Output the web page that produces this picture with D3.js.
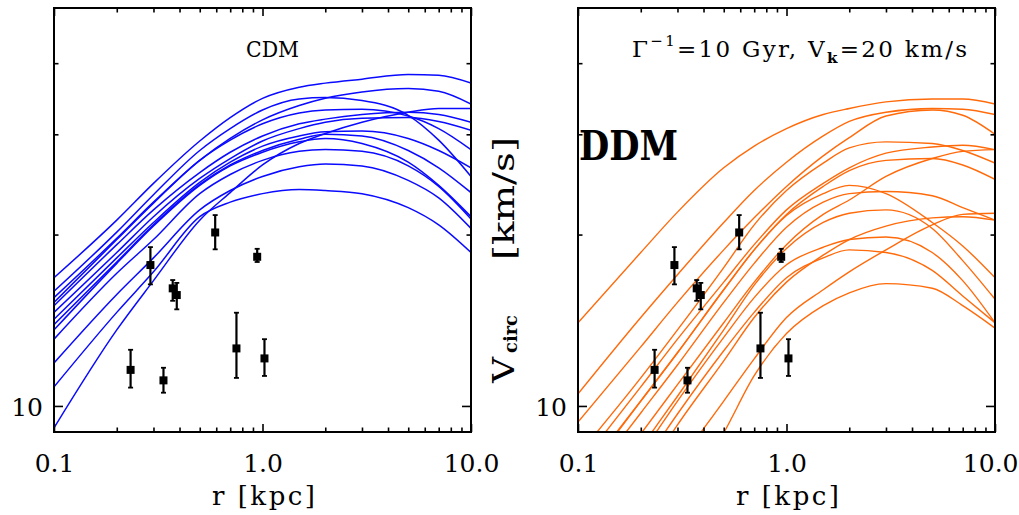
<!DOCTYPE html>
<html>
<head>
<meta charset="utf-8">
<script src="https://cdn.jsdelivr.net/npm/d3@7"></script>
<style>
  body { margin: 0; background: #ffffff; }
  svg { display: block; }
  text { font-family: "DejaVu Serif", serif; fill: #000; }
</style>
</head>
<body>
<svg id="chart" width="1019" height="515"></svg>
<script>
// Radii (kpc) at which every rotation curve is tabulated
const radii = [0.1, 0.2, 0.3, 0.5, 0.7, 1, 1.5, 2, 3, 5, 7, 10];

// Circular-velocity curves (km/s) of the CDM subhaloes
const cdmCurves = [
  [16.8, 21.2, 24.6, 29.2, 32.1, 34.7, 36.3, 36.9, 37.5, 38.2, 38.1, 36.9],
  [15.9, 20.2, 23.5, 28.1, 30.7, 33.1, 34.6, 34.8, 34.4, 32.4, 29.3, 25.3],
  [15.5, 19.7, 22.8, 27.0, 29.5, 31.8, 33.7, 34.7, 35.6, 36.1, 35.7, 33.9],
  [9.15, 13.6, 16.6, 21.2, 23.7, 26.5, 28.9, 30.1, 31.5, 32.8, 33.3, 33.3],
  [10.8, 14.6, 17.2, 21.5, 22.8, 23.6, 24.0, 23.9, 23.6, 22.3, 20.8, 18.6],
  [11.9, 15.7, 18.2, 22.1, 23.9, 25.3, 26.3, 26.6, 26.4, 24.9, 23.2, 20.5],
  [13.1, 17.1, 19.6, 23.6, 25.5, 27.0, 28.0, 28.2, 28.0, 26.4, 24.3, 21.3],
  [15.2, 19.6, 22.7, 27.0, 29.3, 31.3, 32.7, 33.1, 33.2, 32.3, 30.7, 28.2],
  [15.0, 19.2, 22.1, 25.7, 27.9, 29.8, 31.3, 31.9, 32.5, 32.8, 32.5, 31.5],
  [14.6, 18.6, 21.5, 25.1, 27.2, 29.2, 30.7, 31.5, 32.0, 32.1, 31.6, 30.5],
  [14.2, 18.2, 21.0, 24.7, 26.8, 28.6, 29.8, 30.3, 30.4, 29.5, 28.1, 26.2],
  [13.9, 17.9, 20.8, 24.5, 26.5, 28.1, 29.4, 30.0, 29.8, 28.1, 26.2, 23.7],
  [13.6, 17.8, 20.7, 24.4, 26.4, 27.9, 29.1, 29.5, 28.9, 26.8, 24.4, 21.5]
];

// Circular-velocity curves (km/s) of the decaying-DM subhaloes
const ddmCurves = [
  [14.0, 18.6, 21.9, 26.2, 28.6, 30.7, 32.5, 33.3, 34.2, 34.6, 34.6, 33.9],
  [10.5, 14.3, 17.0, 21.0, 23.9, 26.8, 29.8, 31.6, 32.8, 33.3, 33.2, 32.5],
  [9.37, 12.7, 15.2, 18.8, 21.4, 24.3, 27.5, 29.6, 32.3, 33.1, 32.4, 30.0],
  [8.2, 11.2, 13.6, 17.5, 20.8, 23.9, 26.7, 28.4, 29.1, 28.9, 28.1, 26.7],
  [7.8, 10.8, 13.1, 16.5, 19.2, 22.1, 24.6, 26.2, 27.8, 28.5, 28.7, 28.2],
  [7.36, 10.2, 12.4, 16.0, 18.8, 21.7, 24.3, 25.9, 27.0, 27.2, 26.5, 25.0],
  [7.27, 10.2, 12.4, 16.0, 18.8, 21.6, 23.6, 24.4, 23.6, 21.0, 19.1, 16.8],
  [6.98, 9.72, 11.8, 15.2, 17.8, 20.6, 22.8, 23.6, 23.8, 23.4, 22.3, 21.2],
  [6.31, 8.93, 10.9, 14.0, 16.5, 19.2, 21.7, 23.0, 25.3, 27.2, 28.0, 28.2],
  [5.82, 8.44, 10.4, 13.6, 16.3, 18.9, 21.0, 21.8, 22.1, 20.5, 18.0, 15.4],
  [5.63, 8.2, 10.2, 13.2, 15.5, 17.7, 19.0, 19.6, 19.8, 18.6, 16.6, 14.0],
  [5.37, 7.79, 9.68, 12.5, 14.6, 16.8, 18.2, 18.8, 18.6, 17.3, 15.6, 14.0],
  [4.57, 6.36, 7.88, 10.2, 12.1, 14.3, 16.0, 17.2, 18.8, 20.8, 21.7, 21.8],
  [3.89, 5.46, 6.70, 8.97, 11.3, 13.4, 15.0, 15.8, 16.4, 16.1, 15.0, 13.7],
  [5.05, 7.36, 9.26, 12.0, 14.3, 16.5, 18.4, 19.6, 20.7, 21.4, 21.5, 21.2]
];

// Measured circular velocities of the dwarf spheroidals (r in kpc, V in km/s)
const obsR  = [0.233, 0.335, 0.290, 0.371, 0.388, 0.750, 1.022, 0.943, 0.593];
const obsV  = [11.57, 11.09, 17.68, 16.09, 15.66, 12.62, 12.12, 18.28, 20.17];
const obsLo = [10.77, 10.55, 16.35, 15.30, 14.78, 11.20, 11.29, 17.90, 18.84];
const obsHi = [12.55, 11.67, 19.01, 16.64, 16.45, 14.58, 13.10, 18.88, 21.64];

// Axis ticks
const xMajorTicks = [0.1, 1, 10];
const xMajorLabels = ["0.1", "1.0", "10.0"];
const xMinorTicks = [0.2, 0.3, 0.4, 0.5, 0.6, 0.7, 0.8, 0.9, 2, 3, 4, 5, 6, 7, 8, 9];
const yMajorTicks = [10];
const yMajorLabels = ["10"];
const yMinorTicks = [20, 30, 40];

const svg = d3.select("#chart");
const plotTop = 8, plotBottom = 432;
const y = d3.scaleLog().domain([9, 50]).range([plotBottom, plotTop]);

const panels = [
  { id: "cdm", left: 54, right: 471, curves: cdmCurves, color: "#0a0aff", width: 1.5 },
  { id: "ddm", left: 578, right: 995, curves: ddmCurves, color: "#ff6a0a", width: 1.4 }
];

panels.forEach((p, pi) => {
  const x = d3.scaleLog().domain([0.1, 10]).range([p.left, p.right]);
  const g = svg.append("g");

  g.append("clipPath").attr("id", "clip-" + p.id)
    .append("rect")
    .attr("x", p.left).attr("y", plotTop)
    .attr("width", p.right - p.left).attr("height", plotBottom - plotTop);

  const line = d3.line()
    .x((d, i) => x(radii[i]))
    .y(d => y(d))
    .curve(d3.curveMonotoneX);

  g.append("g").attr("clip-path", `url(#clip-${p.id})`)
    .selectAll("path").data(p.curves).join("path")
    .attr("d", line)
    .attr("fill", "none")
    .attr("stroke", p.color)
    .attr("stroke-width", p.width)
    .attr("stroke-linejoin", "round");

  // observed points with error bars
  const pts = g.append("g").selectAll("g").data(obsR).join("g");
  pts.append("line")
    .attr("x1", d => x(d)).attr("x2", d => x(d))
    .attr("y1", (d, i) => y(obsLo[i])).attr("y2", (d, i) => y(obsHi[i]))
    .attr("stroke", "#000").attr("stroke-width", 2.2);
  [obsLo, obsHi].forEach(arr => {
    pts.append("line")
      .attr("x1", d => x(d) - 2.5).attr("x2", d => x(d) + 2.5)
      .attr("y1", (d, i) => y(arr[i])).attr("y2", (d, i) => y(arr[i]))
      .attr("stroke", "#000").attr("stroke-width", 1.8);
  });
  pts.append("rect")
    .attr("x", d => x(d) - 4).attr("y", (d, i) => y(obsV[i]) - 4)
    .attr("width", 8).attr("height", 8)
    .attr("fill", "#000");

  // axes: major and minor ticks drawn inward on all four sides
  const styleAxis = sel => {
    sel.select(".domain").remove();
    sel.selectAll(".tick line").attr("stroke", "#000").attr("stroke-width", 1.6);
  };
  g.append("g").attr("transform", `translate(0,${plotBottom})`)
    .call(d3.axisBottom(x).tickValues(xMajorTicks)
      .tickFormat((d, i) => xMajorLabels[i]).tickSizeInner(-8).tickSizeOuter(0).tickPadding(22))
    .call(styleAxis)
    .call(s => s.selectAll("text")
      .attr("font-family", "DejaVu Serif").attr("font-size", 25)
      .attr("fill", "#000").attr("dy", "0.71em")
      // the last label of the right panel is pulled in so it stays on the page
      .attr("text-anchor", (d, i) => (pi === 1 && i === 2) ? "end" : "middle")
      .attr("dx", (d, i) => (pi === 1 && i === 2) ? 23 : 0));
  g.append("g").attr("transform", `translate(0,${plotBottom})`)
    .call(d3.axisBottom(x).tickValues(xMinorTicks).tickFormat("").tickSizeInner(-4.5).tickSizeOuter(0))
    .call(styleAxis);
  g.append("g").attr("transform", `translate(0,${plotTop})`)
    .call(d3.axisTop(x).tickValues(xMajorTicks).tickFormat("").tickSizeInner(-8).tickSizeOuter(0))
    .call(styleAxis);
  g.append("g").attr("transform", `translate(0,${plotTop})`)
    .call(d3.axisTop(x).tickValues(xMinorTicks).tickFormat("").tickSizeInner(-4.5).tickSizeOuter(0))
    .call(styleAxis);

  g.append("g").attr("transform", `translate(${p.left},0)`)
    .call(d3.axisLeft(y).tickValues(yMajorTicks)
      .tickFormat((d, i) => yMajorLabels[i]).tickSizeInner(-9).tickSizeOuter(0).tickPadding(11))
    .call(styleAxis)
    .call(s => s.selectAll("text")
      .attr("font-family", "DejaVu Serif").attr("font-size", 25)
      .attr("fill", "#000").attr("dy", "0.38em"));
  g.append("g").attr("transform", `translate(${p.left},0)`)
    .call(d3.axisLeft(y).tickValues(yMinorTicks).tickFormat("").tickSizeInner(-4.5).tickSizeOuter(0))
    .call(styleAxis);
  g.append("g").attr("transform", `translate(${p.right},0)`)
    .call(d3.axisRight(y).tickValues(yMajorTicks).tickFormat("").tickSizeInner(-9).tickSizeOuter(0))
    .call(styleAxis);
  g.append("g").attr("transform", `translate(${p.right},0)`)
    .call(d3.axisRight(y).tickValues(yMinorTicks).tickFormat("").tickSizeInner(-4.5).tickSizeOuter(0))
    .call(styleAxis);

  // frame
  g.append("rect")
    .attr("x", p.left).attr("y", plotTop)
    .attr("width", p.right - p.left).attr("height", plotBottom - plotTop)
    .attr("fill", "none").attr("stroke", "#000").attr("stroke-width", 2);

  // x-axis title
  g.append("text")
    .attr("x", (p.left + p.right) / 2 + 1).attr("y", 505)
    .attr("text-anchor", "middle").attr("font-size", 26)
    .attr("textLength", 103).attr("lengthAdjust", "spacing")
    .text("r [kpc]");
});

// panel annotations
svg.append("text")
  .attr("x", 272.5).attr("y", 57).attr("text-anchor", "middle")
  .attr("font-size", 23).attr("textLength", 53).attr("lengthAdjust", "spacingAndGlyphs")
  .text("CDM");

const title = svg.append("text")
  .attr("x", 632).attr("y", 57).attr("font-size", 23)
  .attr("textLength", 335).attr("lengthAdjust", "spacing");
title.append("tspan").text("Γ");
title.append("tspan").attr("font-size", 15).attr("dy", -11).text("−1");
title.append("tspan").attr("dy", 11).text("=10 Gyr, V");
title.append("tspan").attr("font-size", 15).attr("font-weight", "bold").attr("dy", 6).text("k");
title.append("tspan").attr("dy", -6).text("=20 km/s");

svg.append("text")
  .attr("x", 579).attr("y", 160)
  .attr("font-family", "Liberation Serif").attr("font-weight", "bold")
  .attr("font-size", 41).attr("fill", "#2e2e3a")
  .attr("textLength", 99).attr("lengthAdjust", "spacingAndGlyphs")
  .text("DDM");

// y-axis title, read bottom to top: V, bold subscript "circ", then the unit
const yTitle = [
  { text: "V", start: 0, len: 26, size: 29, weight: "normal", shift: 0, adjust: "spacingAndGlyphs" },
  { text: "circ", start: 30, len: 38, size: 19, weight: "bold", shift: 3, adjust: "spacingAndGlyphs" },
  { text: "[km/s]", start: 123, len: 123, size: 30, weight: "normal", shift: 0, adjust: "spacingAndGlyphs" }
];
svg.append("g").attr("transform", "translate(514,383) rotate(-90)")
  .selectAll("text").data(yTitle).join("text")
  .attr("x", d => d.start).attr("y", d => d.shift)
  .attr("font-size", d => d.size).attr("font-weight", d => d.weight)
  .attr("textLength", d => d.len).attr("lengthAdjust", d => d.adjust)
  .text(d => d.text);
</script>
</body>
</html>
